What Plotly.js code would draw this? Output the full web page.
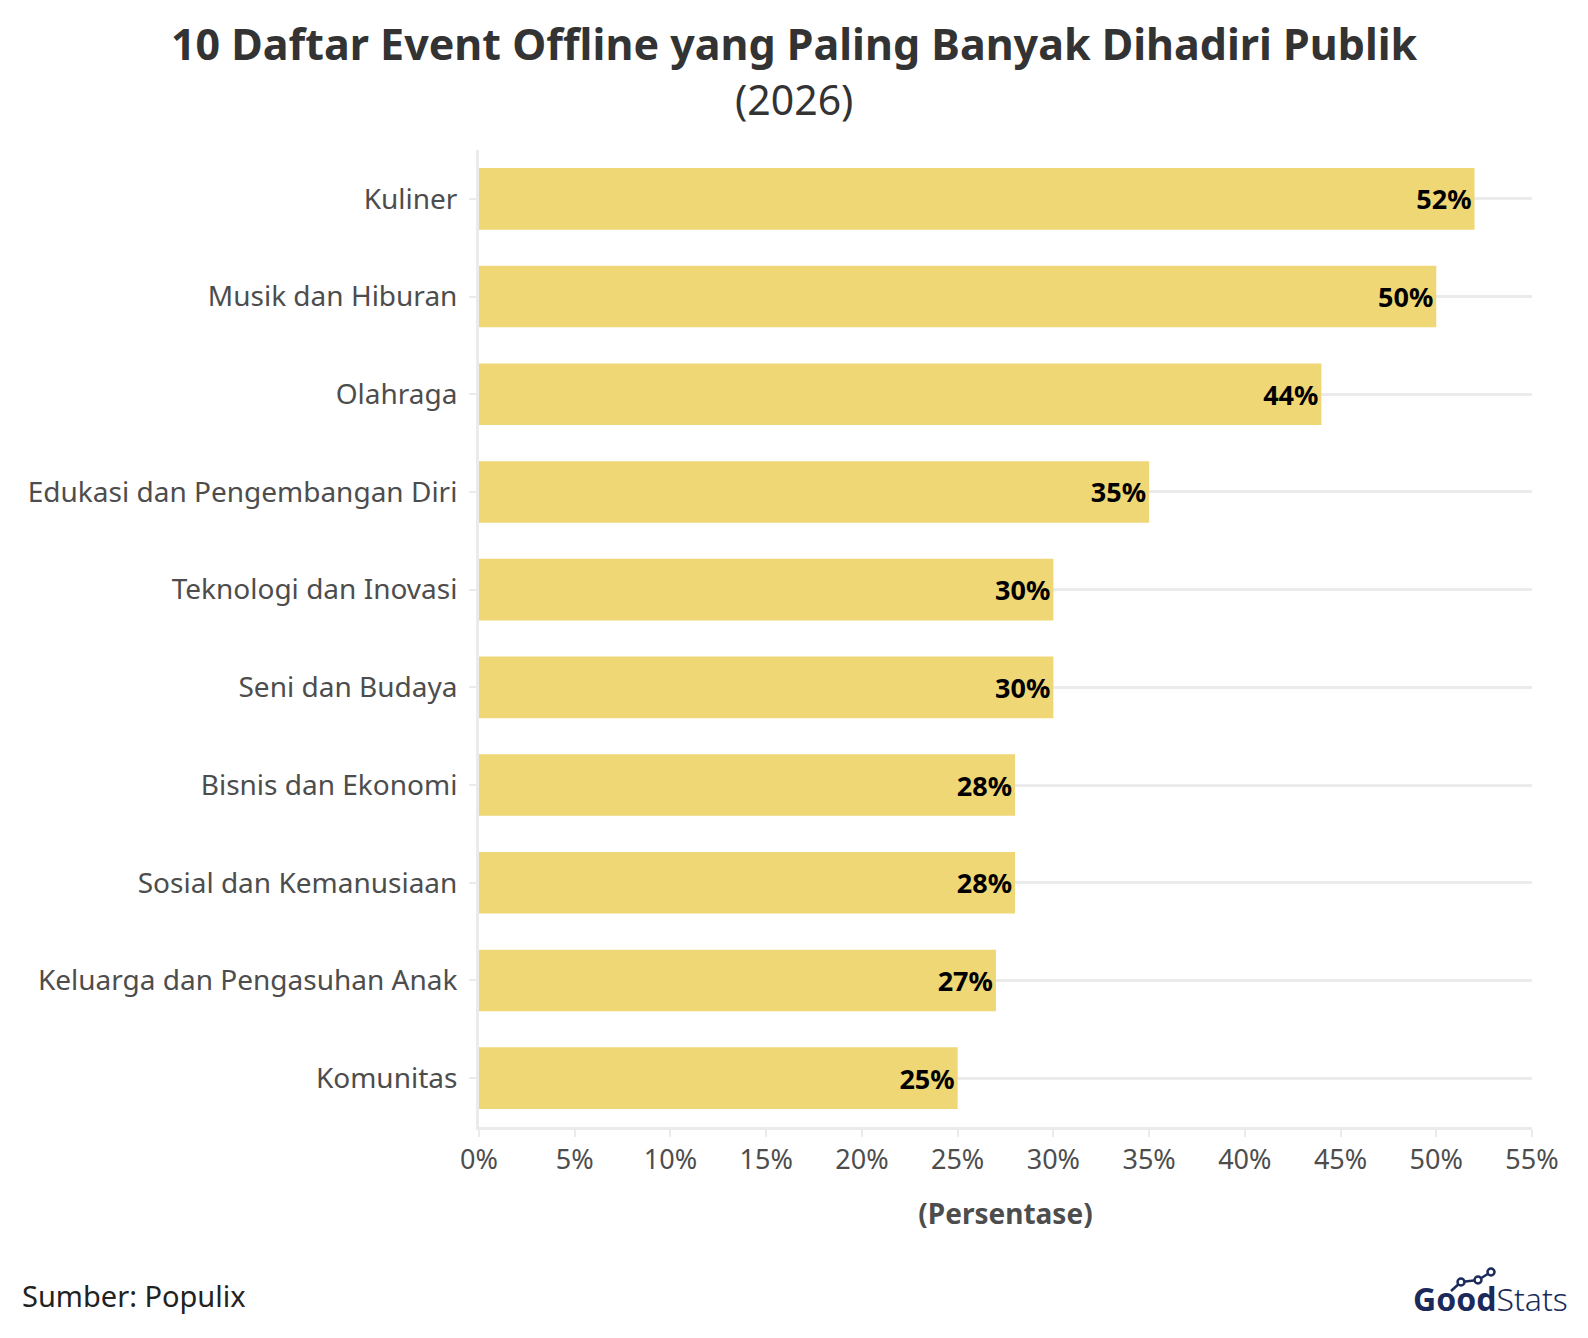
<!DOCTYPE html>
<html>
<head>
<meta charset="utf-8">
<script src="https://cdn.plot.ly/plotly-3.0.1.min.js"></script>
<style>html,body{margin:0;padding:0;background:#fff;}#chart{width:1588px;height:1338px;}</style>
</head>
<body>
<div id="chart"></div>
<script>
const categories = ["Kuliner","Musik dan Hiburan","Olahraga","Edukasi dan Pengembangan Diri","Teknologi dan Inovasi","Seni dan Budaya","Bisnis dan Ekonomi","Sosial dan Kemanusiaan","Keluarga dan Pengasuhan Anak","Komunitas"];
const values = [52,50,44,35,30,30,28,28,27,25];
const xTicks = [0,5,10,15,20,25,30,35,40,45,50,55];
const xTickLabels = ["0%","5%","10%","15%","20%","25%","30%","35%","40%","45%","50%","55%"];

const font = "'Noto Sans', 'Open Sans', sans-serif";

// pixel -> paper helpers (plot area: x 479..1532, y 150..1127)
const L = 479, R = 1532, T = 150, B = 1127;
const px = x => (x - L) / (R - L);
const py = y => (B - y) / (B - T);

const trace = {
  type: 'bar',
  orientation: 'h',
  y: categories,
  x: values,
  marker: {color: '#EFD776', line: {width: 0}},
  width: 0.63,
  text: values.map(v => v + '%'),
  textposition: 'inside',
  insidetextanchor: 'end',
  textangle: 0,
  textfont: {family: font, size: 27, color: '#000', weight: 700},
  hoverinfo: 'skip',
  cliponaxis: false
};

const navy = '#1B2A5B';
const shapes = [
  {type: 'line', xref: 'paper', yref: 'paper', x0: px(1451), y0: py(1291), x1: px(1461), y1: py(1282), line: {color: navy, width: 2.5}},
  {type: 'line', xref: 'paper', yref: 'paper', x0: px(1461), y0: py(1282), x1: px(1478), y1: py(1280), line: {color: navy, width: 2.5}},
  {type: 'line', xref: 'paper', yref: 'paper', x0: px(1478), y0: py(1280), x1: px(1491), y1: py(1272), line: {color: navy, width: 2.5}},
  ...[[1461,1282],[1478,1280],[1491,1272]].map(([cx, cy]) => ({
    type: 'circle', xref: 'paper', yref: 'paper',
    x0: px(cx - 3.5), x1: px(cx + 3.5), y0: py(cy + 3.5), y1: py(cy - 3.5),
    fillcolor: '#fff', line: {color: navy, width: 2.5}
  }))
];

const layout = {
  width: 1588, height: 1338,
  margin: {l: L, r: 1588 - R, t: T, b: 1338 - B},
  paper_bgcolor: '#fff', plot_bgcolor: '#fff',
  showlegend: false,
  font: {family: font, color: '#4d4d4d'},
  xaxis: {
    range: [0, 55],
    tickvals: xTicks, ticktext: xTickLabels,
    showgrid: false, zeroline: false,
    showline: true, linecolor: '#ebebeb', linewidth: 3,
    ticks: 'outside', ticklen: 7, tickwidth: 2, tickcolor: '#ebebeb',
    tickfont: {family: font, size: 27, color: '#4d4d4d'},
    ticklabelstandoff: 0,
    title: {text: '<b>(Persentase)</b>', font: {family: font, size: 28, color: '#4d4d4d'}, standoff: 28},
    fixedrange: true
  },
  yaxis: {
    categoryorder: 'array', categoryarray: categories,
    autorange: 'reversed',
    showgrid: true, gridcolor: '#ebebeb', gridwidth: 3,
    zeroline: false,
    showline: true, linecolor: '#ebebeb', linewidth: 3,
    ticks: 'outside', ticklen: 7, tickwidth: 2, tickcolor: '#ebebeb',
    tickfont: {family: font, size: 28, color: '#4d4d4d'},
    ticklabelstandoff: 6,
    fixedrange: true
  },
  shapes: shapes,
  annotations: [
    {text: '<b>10 Daftar Event Offline yang Paling Banyak Dihadiri Publik</b>', xref: 'paper', yref: 'paper',
     x: px(794), y: py(44), xanchor: 'center', yanchor: 'middle', showarrow: false,
     font: {family: font, size: 43, color: '#333'}},
    {text: '(2026)', xref: 'paper', yref: 'paper',
     x: px(794), y: py(99), xanchor: 'center', yanchor: 'middle', showarrow: false,
     font: {family: font, size: 41, color: '#333'}},
    {text: 'Sumber: Populix', xref: 'paper', yref: 'paper', x: px(20), y: py(1295), xanchor: 'left', yanchor: 'middle', showarrow: false,
     font: {family: font, size: 29, color: '#222'}},
    {text: "<b>Good</b><span style='font-weight:300'>Stats</span>", xref: 'paper', yref: 'paper', x: px(1570), y: py(1298), xanchor: 'right', yanchor: 'middle', showarrow: false,
     font: {family: font, size: 32, color: navy}}
  ]
};

Plotly.newPlot('chart', [trace], layout, {displayModeBar: false, staticPlot: true});
</script>
</body>
</html>
